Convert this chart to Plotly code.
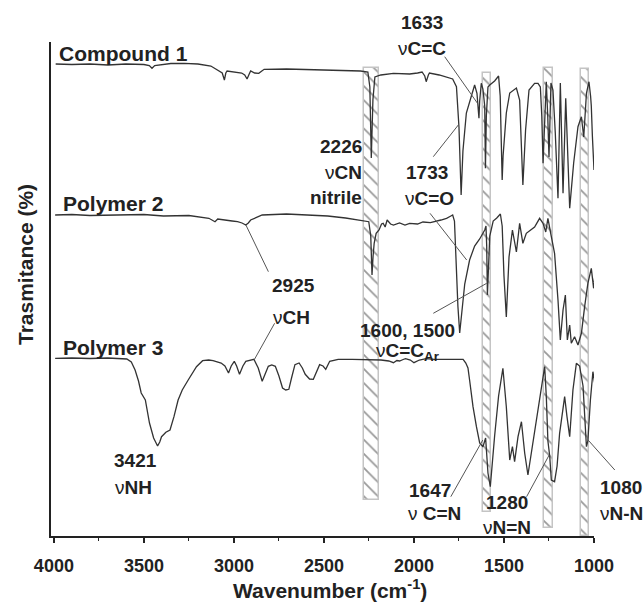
import plotly.graph_objects as go

# ---------------- data (wavenumber cm-1, transmittance in arbitrary offset units) -------------
compound1 = [(3990, 472), (3900, 471.5), (3800, 472), (3700, 471), (3600, 472), (3500, 471.5),
             (3470, 470.5), (3455, 467.7), (3440, 470.5), (3350, 472.5), (3276, 472.7), (3200, 472),
             (3128, 470), (3093, 466), (3065, 463), (3053, 456), (3045, 463), (3038, 465), (3003, 464),
             (2957, 463), (2940, 461), (2927, 457), (2915, 462), (2907, 465), (2885, 463), (2862, 462.7),
             (2845, 465), (2832, 466.7), (2708, 467), (2600, 466.5), (2479, 466), (2380, 465.5),
             (2297, 465), (2256, 464), (2245, 449), (2237, 378), (2228, 436), (2217, 459), (2184, 461),
             (2114, 462.7), (2024, 462), (1980, 463), (1955, 464), (1940, 460), (1932, 454.3),
             (1920, 461), (1914, 463), (1860, 461), (1820, 459), (1797, 457.7), (1785, 457),
             (1764, 449.3), (1750, 409), (1738, 341), (1728, 385), (1709, 423), (1700, 429),
             (1681, 441), (1663, 451), (1650, 442.7), (1644, 430), (1639, 417.7), (1635, 435),
             (1631, 446), (1626, 452.7), (1617, 447), (1607, 430), (1603, 367.7), (1598, 420),
             (1589, 449), (1579, 451), (1552, 455), (1530, 460), (1521, 440), (1510, 356), (1505, 380),
             (1487, 423), (1468, 443), (1431, 448), (1413, 436), (1403, 390), (1395, 351), (1380, 406),
             (1361, 446), (1330, 452.7), (1311, 452.7), (1298, 449), (1290, 420), (1283, 372.7),
             (1272, 436), (1265, 454.3), (1257, 420), (1250, 379), (1239, 453), (1228, 446),
             (1215, 403), (1200, 337.7), (1187, 453), (1172, 342.7), (1157, 437.7), (1146, 380),
             (1135, 327.7), (1113, 373), (1089, 409.3), (1070, 419.3), (1057, 399), (1042, 442.7),
             (1028, 454.3), (1019, 440), (1015, 430), (1009, 400), (1006, 380), (1000, 366), (987, 412.7)]

polymer2 = [(3993, 321), (3900, 321.5), (3800, 320.5), (3617, 321), (3500, 321.5), (3391, 320),
            (3250, 320.5), (3139, 317.7), (3105, 314.3), (3090, 317), (3071, 316.7), (3040, 316),
            (3010, 315), (2980, 314.3), (2955, 313), (2934, 311), (2920, 313), (2907, 316), (2870, 319),
            (2843, 321), (2708, 322), (2600, 321), (2479, 320), (2380, 318), (2297, 316), (2251, 314.3),
            (2240, 300), (2233, 261), (2227, 280), (2221, 292.7), (2210, 302.7), (2194, 306),
            (2180, 312), (2171, 312.7), (2160, 309), (2149, 316), (2130, 312), (2114, 311), (2080, 313),
            (2050, 311), (2024, 312.7), (1980, 312), (1950, 314), (1909, 313.3), (1850, 316),
            (1819, 317.7), (1795, 320), (1785, 321), (1775, 315), (1765, 269), (1756, 230), (1746, 203),
            (1740, 215), (1728, 240), (1718, 252), (1691, 276), (1663, 290), (1635, 297), (1607, 306),
            (1600, 310), (1596, 290), (1592, 241), (1586, 280), (1579, 300), (1560, 315), (1540, 318),
            (1520, 322), (1510, 310), (1500, 260), (1487, 219), (1472, 279), (1453, 306), (1442, 295),
            (1431, 284), (1413, 312.7), (1395, 292.7), (1376, 302.7), (1357, 305), (1330, 309),
            (1302, 317.7), (1283, 312.7), (1268, 304), (1256, 317.7), (1237, 299.3), (1219, 282.7),
            (1200, 236), (1187, 196), (1172, 226), (1159, 241), (1148, 196), (1135, 211), (1126, 192.7),
            (1108, 199.3), (1089, 191), (1070, 202.7), (1052, 229.3), (1034, 252.7), (1015, 267.7),
            (1002, 247.7), (991, 269.3), (978, 279.3)]

polymer3 = [(3993, 177.7), (3900, 178), (3800, 177.5), (3700, 178), (3595, 177), (3570, 174),
            (3549, 166), (3530, 155), (3515, 143), (3492, 136), (3469, 113), (3446, 98), (3424, 90),
            (3412, 94), (3402, 99.3), (3378, 103.7), (3355, 106), (3333, 119.3), (3310, 136),
            (3287, 146), (3254, 156), (3208, 169.3), (3174, 175.3), (3140, 176), (3116, 175.3),
            (3071, 173), (3050, 170), (3030, 163), (3015, 170), (2998, 174.7), (2985, 170),
            (2969, 161.7), (2950, 170), (2934, 174.7), (2889, 176.7), (2865, 168), (2843, 154.7),
            (2825, 162), (2809, 169.7), (2790, 171), (2770, 169.7), (2750, 160), (2730, 148),
            (2712, 146), (2695, 146.7), (2680, 158), (2661, 171.3), (2638, 173), (2620, 168),
            (2604, 161.7), (2580, 157), (2559, 156.7), (2540, 165), (2524, 171.3), (2505, 170),
            (2490, 166.7), (2468, 174.7), (2421, 176.7), (2342, 176.7), (2250, 176.5), (2183, 176),
            (2140, 175), (2114, 173.3), (2095, 175.5), (2080, 175), (2060, 176.5), (2047, 177.3),
            (2020, 176), (2000, 173.3), (1970, 176), (1932, 177.3), (1887, 176.7), (1819, 176.7),
            (1760, 177), (1727, 176.7), (1712, 173), (1700, 168), (1691, 156), (1672, 129.3),
            (1653, 109.3), (1635, 93), (1617, 89.3), (1602, 98), (1589, 63), (1576, 49.3), (1552, 100),
            (1530, 140), (1506, 167.7), (1487, 129.3), (1468, 76), (1453, 89.3), (1441, 74.3),
            (1422, 99.3), (1403, 114.3), (1385, 83), (1367, 61), (1339, 93), (1302, 136),
            (1274, 169.3), (1265, 140), (1256, 95), (1246, 80), (1237, 56), (1219, 54.3), (1205, 70),
            (1191, 102.7), (1163, 139.3), (1150, 119.3), (1135, 99.3), (1117, 146), (1098, 172.7),
            (1080, 170), (1061, 150), (1042, 89.3), (1034, 95), (1020, 136), (1006, 164.3),
            (996, 152.7), (987, 162.7), (972, 146)]

series_names = ["Compound 1", "Polymer 2", "Polymer 3"]

# hatched band regions (cm-1) with their vertical extent
band_centers = [2236, 1595, 1253, 1049]
band_widths = [82, 47, 46, 46]
band_bottoms = [36, 24, 8, 0]
band_tops = [468, 463, 468, 467]

tick_vals = [4000, 3500, 3000, 2500, 2000, 1500, 1000]
tick_text = ["4000", "3500", "3000", "2500", "2000", "1500", "1000"]

# ---------------- layout geometry (pixels) ----------------
W, H = 644, 602
L, R, T, B = 51, 50, 42, 66
PW, PH = W - L - R, H - T - B
FONT = "Liberation Sans, Arial, sans-serif"
INK = "#222222"


def paper(px, py):
    """pixel -> paper coordinates"""
    return (px - L) / PW, (H - B - py) / PH


fig = go.Figure()

fig.add_trace(go.Bar(
    x=band_centers, y=[t - b for t, b in zip(band_tops, band_bottoms)], base=band_bottoms,
    width=band_widths, hoverinfo="skip", showlegend=False,
    marker=dict(color="white", line=dict(color="#c4c4c4", width=1.5),
                pattern=dict(shape="\\", fgcolor="#999999", bgcolor="white",
                             size=10, solidity=0.18, fillmode="replace")),
))

for name, pts in zip(series_names, [compound1, polymer2, polymer3]):
    fig.add_trace(go.Scatter(x=[p[0] for p in pts], y=[p[1] for p in pts], mode="lines", name=name,
                             line=dict(color="#333333", width=1.3), showlegend=False,
                             hoverinfo="skip"))

annotations = []


def label(text, px, py, size=18, anchor="center", angle=0):
    x, y = paper(px, py)
    annotations.append(dict(text=text, x=x, y=y, xref="paper", yref="paper", showarrow=False,
                            xanchor=anchor, yanchor="middle", textangle=angle,
                            font=dict(family=FONT, size=size, color=INK)))


# series labels
series_pos = [(57, 53), (61, 203), (61, 347)]
for name, (px, py) in zip(series_names, series_pos):
    label("<b>%s</b>" % name, px, py, size=21, anchor="left")

peak_labels = [
    ("<b>1633</b>", 422, 22, "center"), ("ν<b>C=C</b>", 422, 48, "center"),
    ("<b>2226</b>", 364, 147, "right"), ("ν<b>CN</b>", 364, 172, "right"),
    ("<b>nitrile</b>", 364, 197, "right"),
    ("<b>1733</b>", 427, 172, "center"), ("ν<b>C=O</b>", 429, 198, "center"),
    ("<b>2925</b>", 293, 285, "center"), ("ν<b>CH</b>", 291, 317, "center"),
    ("<b>1600, 1500</b>", 407, 330, "center"), ("ν<b>C=C<sub>Ar</sub></b>", 407, 352, "center"),
    ("<b>3421</b>", 135, 460, "center"), ("ν<b>NH</b>", 133, 487, "center"),
    ("<b>1647</b>", 430, 490, "center"), ("ν <b>C=N</b>", 434, 513, "center"),
    ("<b>1280</b>", 507, 502, "center"), ("ν<b>N=N</b>", 507, 527, "center"),
    ("<b>1080</b>", 621, 487, "center"), ("ν<b>N-N</b>", 621, 513, "center"),
]
for text, px, py, anc in peak_labels:
    label(text, px, py, size=19, anchor=anc)

# axis titles
label("<b>Wavenumber (cm<sup>-1</sup>)</b>", 330, 589, size=21)
label("<b>Trasmitance (%)</b>", 25, 265, size=21, angle=-90)

leaders = [
    (444.7, 56.7, 477.5, 103.3), (433.3, 156.7, 458.3, 125), (430, 213.3, 466.7, 260),
    (433.3, 313.3, 486.7, 283.3), (268.4, 271.7, 245.9, 225), (274.6, 323.3, 254.1, 360),
    (450.8, 496.7, 482.8, 440), (526.6, 496.7, 549.2, 455), (614.8, 470, 588.1, 440),
]
shapes = []
for x0, y0, x1, y1 in leaders:
    a0, b0 = paper(x0, y0)
    a1, b1 = paper(x1, y1)
    shapes.append(dict(type="line", xref="paper", yref="paper", x0=a0, y0=b0, x1=a1, y1=b1,
                       line=dict(color="#555555", width=1)))

fig.update_layout(
    width=W, height=H, margin=dict(l=L, r=R, t=T, b=B, pad=0),
    paper_bgcolor="white", plot_bgcolor="white", showlegend=False, hovermode=False,
    annotations=annotations, shapes=shapes, bargap=0,
    xaxis=dict(range=[4016, 1000], showline=True, linecolor=INK, linewidth=2,
               ticks="outside", ticklen=5, tickwidth=1.5, tickcolor=INK,
               tickvals=tick_vals, ticktext=["<b>%s</b>" % t for t in tick_text],
               tickfont=dict(family=FONT, size=18, color=INK), ticklabelstandoff=7,
               minor=dict(tickmode="linear", tick0=1000, dtick=250, ticks="outside",
                          ticklen=3, tickcolor=INK, tickwidth=1.2),
               showgrid=False, zeroline=False),
    yaxis=dict(range=[0, PH], showline=True, linecolor=INK, linewidth=2, ticks="",
               showticklabels=False, showgrid=False, zeroline=False),
)

# remove the default page margin so the figure fills the window exactly
fig.write_html("out.html", config={"displayModeBar": False},
               post_script="document.body.style.margin='0px';document.body.style.overflow='hidden';")
